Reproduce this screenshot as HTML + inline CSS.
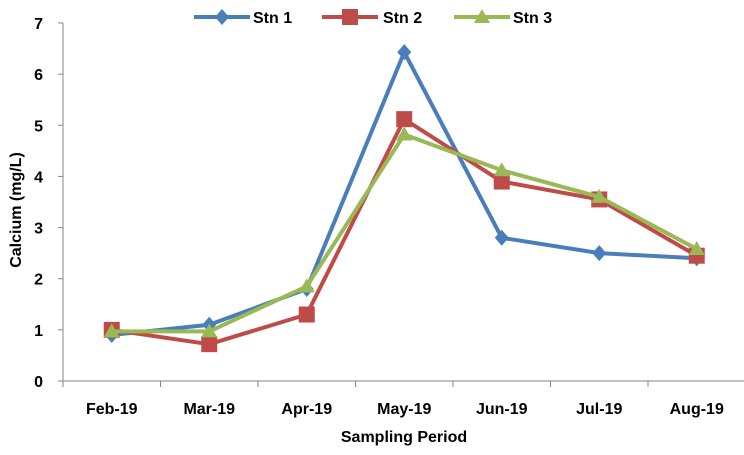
<!DOCTYPE html>
<html><head><meta charset="utf-8"><style>
body{margin:0;background:#fff}
svg text{font-family:"Liberation Sans",Arial,sans-serif;font-weight:bold;fill:#000}
</style></head><body>
<svg id="c" width="744" height="450"></svg>
<script>
const categories=["Feb-19","Mar-19","Apr-19","May-19","Jun-19","Jul-19","Aug-19"];
const stn1=[0.9,1.1,1.8,6.43,2.8,2.5,2.4];
const stn2=[1.0,0.72,1.3,5.12,3.9,3.55,2.45];
const stn3=[0.97,0.97,1.85,4.82,4.12,3.6,2.58];
const yTicks=[0,1,2,3,4,5,6,7];
const NS="http://www.w3.org/2000/svg",svg=document.getElementById('c');
const x0=63,band=97.5,yb=381,yt=23,ymax=7;
const X=i=>x0+band*(i+0.5), Y=v=>yb-(yb-yt)*v/ymax;
function el(t,a,p){const e=document.createElementNS(NS,t);for(const k in a)e.setAttribute(k,a[k]);(p||svg).appendChild(e);return e;}
const ax=el('g',{});


el('line',{x1:x0,y1:yt,x2:x0,y2:yb,stroke:'#868686'},ax);
el('line',{x1:x0,y1:yb,x2:x0+band*7,y2:yb,stroke:'#868686'},ax);
yTicks.forEach(v=>{el('line',{x1:x0-5,x2:x0,y1:Y(v),y2:Y(v),stroke:'#868686'},ax);
const t=el('text',{x:x0-20,y:Y(v)+6,'text-anchor':'end','font-size':16},ax);t.textContent=v;

});
for(let i=0;i<=7;i++)el('line',{x1:x0+band*i,x2:x0+band*i,y1:yb,y2:yb+6,stroke:'#868686'},ax);
categories.forEach((c,i)=>{const t=el('text',{x:X(i),y:414,'text-anchor':'middle','font-size':16},ax);t.textContent=c;

});
let t=el('text',{x:404,y:442,'text-anchor':'middle','font-size':16});t.textContent='Sampling Period';


t=el('text',{x:0,y:0,'text-anchor':'middle','font-size':16,transform:'translate(21,210) rotate(-90)'});t.textContent='Calcium (mg/L)';


function marker(type,cx,cy,col,g){
 if(type==='d')return el('polygon',{points:`${cx},${cy-8} ${cx+7},${cy} ${cx},${cy+8} ${cx-7},${cy}`,fill:col},g);
 if(type==='s')return el('rect',{x:cx-8,y:cy-8,width:16,height:16,fill:col},g);
 return el('polygon',{points:`${cx},${cy-8} ${cx+8},${cy+6} ${cx-8},${cy+6}`,fill:col},g);}
const series=[[stn1,'#4a7ebb','d','Stn 1',222,253],[stn2,'#be4b48','s','Stn 2',350,383],[stn3,'#98b954','t','Stn 3',482,513]];
series.forEach(([d,col,m,name,lx,tx])=>{
 const g=el('g',{});
 
 
 el('polyline',{points:d.map((v,i)=>X(i)+','+Y(v)).join(' '),fill:'none',stroke:col,'stroke-width':4,'stroke-linejoin':'round'},g);
 d.forEach((v,i)=>{const p=marker(m,X(i),Y(v),col,g);
  
  });
 const lg=el('g',{});
 
 
 el('line',{x1:lx-28,x2:lx+28,y1:17,y2:17,stroke:col,'stroke-width':4},lg);
 marker(m,lx,17,col,lg);
 const tt=el('text',{x:tx,y:23,'font-size':16},lg);tt.textContent=name;
});
</script>
</body></html>
